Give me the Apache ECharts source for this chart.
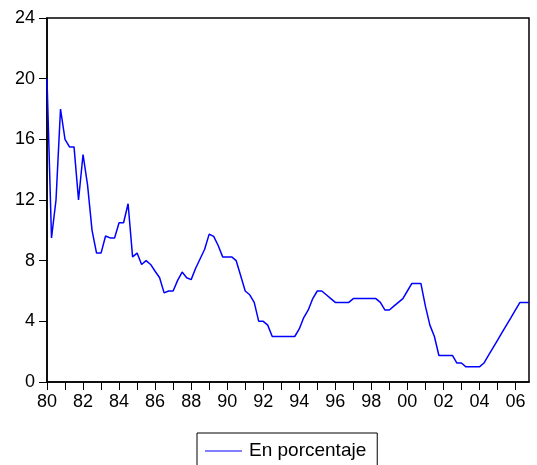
<!DOCTYPE html>
<html>
<head>
<meta charset="utf-8">
<script src="https://cdn.jsdelivr.net/npm/echarts@6/dist/echarts.min.js"></script>
<style>
html,body{margin:0;padding:0;background:#fff;}
#chart{width:537px;height:465px;}
</style>
</head>
<body>
<div id="chart"></div>
<script>
// Quarterly observations 1980Q1 .. 2006Q4
var startYear = 1980;
var endYear = 2006;
var quarters = ['Q1', 'Q2', 'Q3', 'Q4'];
var categories = [];
for (var y = startYear; y <= endYear; y++) {
  for (var q = 0; q < 4; q++) categories.push(y + quarters[q]);
}

var seriesName = 'En porcentaje';
var values = [
  20, 9.5, 12, 18,            // 1980
  16, 15.5, 15.5, 12,         // 1981
  15, 13, 10, 8.5,            // 1982
  8.5, 9.625, 9.5, 9.5,       // 1983
  10.5, 10.5, 11.75, 8.25,    // 1984
  8.5, 7.75, 8, 7.75,         // 1985
  7.3, 6.875, 5.875, 6,       // 1986
  6, 6.7, 7.25, 6.875,        // 1987
  6.75, 7.5, 8.125, 8.75,     // 1988
  9.75, 9.6, 9, 8.25,         // 1989
  8.25, 8.25, 8, 7,           // 1990
  6, 5.75, 5.25, 4,           // 1991
  4, 3.75, 3, 3,              // 1992
  3, 3, 3, 3,                 // 1993
  3.5, 4.25, 4.75, 5.5,       // 1994
  6, 6, 5.75, 5.5,            // 1995
  5.25, 5.25, 5.25, 5.25,     // 1996
  5.5, 5.5, 5.5, 5.5,         // 1997
  5.5, 5.5, 5.25, 4.75,       // 1998
  4.75, 5, 5.25, 5.5,         // 1999
  6, 6.5, 6.5, 6.5,           // 2000
  5, 3.75, 3, 1.75,           // 2001
  1.75, 1.75, 1.75, 1.25,     // 2002
  1.25, 1, 1, 1,              // 2003
  1, 1.25, 1.75, 2.25,        // 2004
  2.75, 3.25, 3.75, 4.25,     // 2005
  4.75, 5.25, 5.25, 5.25      // 2006
];

var yMin = 0, yMax = 24, yStep = 4;
var FONT = 'Liberation Sans, Arial, sans-serif';

var chart = echarts.init(document.getElementById('chart'), null, {renderer: 'canvas'});
chart.setOption({
  animation: false,
  backgroundColor: '#ffffff',
  grid: {
    left: 47, top: 18, right: 8, bottom: 83,
    show: true, borderColor: '#000', borderWidth: 1.5, backgroundColor: 'transparent'
  },
  legend: {
    data: [{name: seriesName, icon: 'rect'}],
    left: 197, top: 433,
    padding: [7, 11, 7, 8],
    borderColor: '#000', borderWidth: 1,
    itemWidth: 37, itemHeight: 1, itemGap: 0,
    itemStyle: {color: '#0000ff', borderWidth: 0},
    textStyle: {fontFamily: FONT, fontSize: 19, color: '#000', padding: [0, 0, 0, 2], lineHeight: 22}
  },
  xAxis: {
    type: 'category',
    data: categories,
    boundaryGap: false,
    axisLine: {lineStyle: {color: '#000', width: 1.5}},
    axisTick: {
      show: true, inside: false, length: 8,
      lineStyle: {color: '#000', width: 1},
      interval: function (idx) { return idx % 4 === 0; }
    },
    axisLabel: {
      interval: function (idx) { return idx % 8 === 0; },
      formatter: function (v) { return v.substring(2, 4); },
      fontFamily: FONT, fontSize: 18, color: '#000', margin: 11
    },
    splitLine: {show: false}
  },
  yAxis: {
    type: 'value',
    min: yMin, max: yMax, interval: yStep,
    axisLine: {show: true, lineStyle: {color: '#000', width: 1.5}},
    axisTick: {show: true, inside: false, length: 8, lineStyle: {color: '#000', width: 1}},
    axisLabel: {fontFamily: FONT, fontSize: 18, color: '#000', margin: 12},
    splitLine: {show: false}
  },
  series: [{
    name: seriesName,
    type: 'line',
    data: values,
    symbol: 'none',
    lineStyle: {color: '#0000ff', width: 1.5},
    itemStyle: {color: '#0000ff'}
  }]
});
</script>
</body>
</html>
